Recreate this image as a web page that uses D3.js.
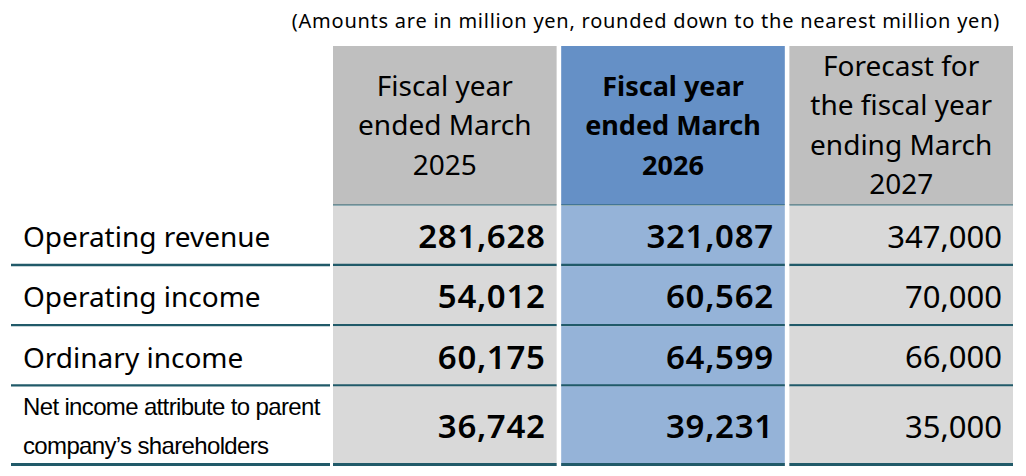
<!DOCTYPE html>
<html>
<head>
<meta charset="utf-8">
<script src="https://cdn.jsdelivr.net/npm/d3@7"></script>
<style>
  body { margin: 0; background: #fff; }
  text { font-family: "Noto Sans", "Open Sans", sans-serif; fill: #000; }
</style>
</head>
<body>
<div id="chart"></div>
<script>
// Table content
const note = "(Amounts are in million yen, rounded down to the nearest million yen)";
const headers = [
  "Fiscal year\nended March\n2025",
  "Fiscal year\nended March\n2026",
  "Forecast for\nthe fiscal year\nending March\n2027"
];
const items = [
  "Operating revenue",
  "Operating income",
  "Ordinary income",
  "Net income attribute to parent\ncompany’s shareholders"
];
const fy2025 = [281628, 54012, 60175, 36742];
const fy2026 = [321087, 60562, 64599, 39231];
const fy2027 = [347000, 70000, 66000, 35000];

const series = [fy2025, fy2026, fy2027];

// Column looks
const colStyle = [
  { head: "#bfbfbf", body: "#d9d9d9", headWeight: 400, headSize: 28, numWeight: 600, numSize: 33, numSpace: 0.7 },
  { head: "#6590c6", body: "#95b3d8", headWeight: 700, headSize: 27, numWeight: 600, numSize: 33, numSpace: 0.7 },
  { head: "#bfbfbf", body: "#d9d9d9", headWeight: 400, headSize: 28, numWeight: 400, numSize: 31, numSpace: 0 }
];
const lineColor = "#215a69";

const width = 1026, height = 476;
const svg = d3.select("#chart").append("svg")
  .attr("width", width)
  .attr("height", height);

// Column scale for the value columns
const x = d3.scaleBand()
  .domain(d3.range(headers.length))
  .range([333, 1013])
  .paddingInner(0.02);

const labelLeft = 11, labelRight = 330;

// Row scale: two-line rows get more room
const rowUnits = items.map(d => d.split("\n").length > 1 ? 1.32 : 1);
const cum = [0];
rowUnits.forEach(u => cum.push(cum[cum.length - 1] + u));
const y = d3.scaleLinear()
  .domain([0, cum[cum.length - 1]])
  .range([206, 466]);

const headTop = 46, headBottom = 205;

// Note
svg.append("text")
  .attr("x", 1000)
  .attr("y", 28)
  .attr("text-anchor", "end")
  .style("font-size", "20px")
  .style("letter-spacing", "0.75px")
  .text(note);

// Header cells
const head = svg.selectAll(".head")
  .data(headers)
  .enter()
  .append("g")
  .attr("class", "head");

head.append("rect")
  .attr("x", (d, i) => x(i))
  .attr("y", headTop)
  .attr("width", x.bandwidth())
  .attr("height", headBottom - headTop)
  .attr("fill", (d, i) => colStyle[i].head);

head.append("line")
  .attr("x1", (d, i) => x(i))
  .attr("x2", (d, i) => x(i) + x.bandwidth())
  .attr("y1", headBottom)
  .attr("y2", headBottom)
  .attr("stroke", lineColor)
  .attr("stroke-width", 1.2);

head.each(function(d, i) {
  const lines = d.split("\n");
  const mid = (headTop + headBottom) / 2 + 9.5;
  d3.select(this).selectAll("text.h")
    .data(lines)
    .enter()
    .append("text")
    .attr("class", "h")
    .attr("x", x(i) + x.bandwidth() / 2)
    .attr("y", (t, j) => mid + (j - (lines.length - 1) / 2) * 39.5)
    .attr("text-anchor", "middle")
    .style("font-size", colStyle[i].headSize + "px")
    .style("font-weight", colStyle[i].headWeight)
    .text(t => t);
});

// Body rows
const rows = svg.selectAll(".row")
  .data(items)
  .enter()
  .append("g")
  .attr("class", "row");

rows.each(function(label, r) {
  const g = d3.select(this);
  const top = y(cum[r]), bottom = y(cum[r + 1]);
  const mid = (top + bottom) / 2;

  series.forEach((vals, c) => {
    g.append("rect")
      .attr("x", x(c))
      .attr("y", top)
      .attr("width", x.bandwidth())
      .attr("height", bottom - top)
      .attr("fill", colStyle[c].body);

    g.append("text")
      .attr("x", x(c) + x.bandwidth() - 11)
      .attr("y", mid)
      .attr("dy", "0.37em")
      .attr("text-anchor", "end")
      .style("font-size", colStyle[c].numSize + "px")
      .style("font-weight", colStyle[c].numWeight)
      .style("letter-spacing", colStyle[c].numSpace + "px")
      .text(d3.format(",")(vals[r]));
  });

  const lines = label.split("\n");
  if (lines.length > 1) {
    g.selectAll("text.l")
      .data(lines)
      .enter()
      .append("text")
      .attr("class", "l")
      .attr("x", 23)
      .attr("y", (t, j) => mid + (j - (lines.length - 1) / 2) * 38.5)
      .attr("dy", "0.35em")
      .style("font-family", "'Liberation Sans Narrow', 'Liberation Sans', sans-serif")
      .style("font-size", "24px")
      .style("letter-spacing", "-0.65px")
      .text(t => t);
  } else {
    g.append("text")
      .attr("x", 23)
      .attr("y", mid)
      .attr("dy", "0.4em")
      .style("font-size", "28px")
      .text(label);
  }

  // bottom borders, broken at the column gaps
  const sw = r === items.length - 1 ? 3 : 2.4;
  const segs = [[labelLeft, labelRight]].concat(series.map((v, c) => [x(c), x(c) + x.bandwidth()]));
  g.selectAll("line.b")
    .data(segs)
    .enter()
    .append("line")
    .attr("class", "b")
    .attr("x1", s => s[0])
    .attr("x2", s => s[1])
    .attr("y1", bottom - sw / 2)
    .attr("y2", bottom - sw / 2)
    .attr("stroke", lineColor)
    .attr("stroke-width", sw);
});
</script>
</body>
</html>
